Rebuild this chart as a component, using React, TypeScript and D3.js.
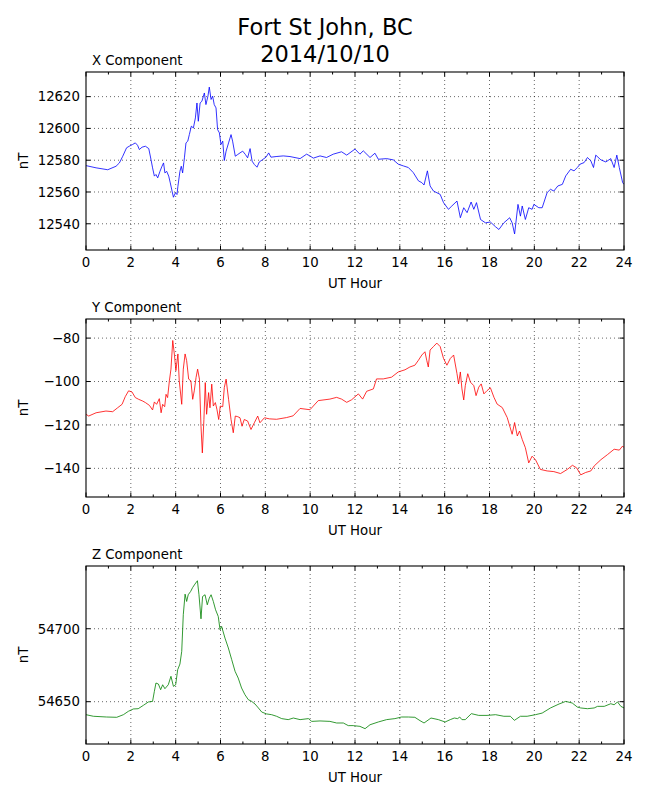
import React from 'react';
import * as d3 from 'd3';

// UT hour ticks
const hourTicks = [0, 2, 4, 6, 8, 10, 12, 14, 16, 18, 20, 22, 24];
const hourMinor = [1, 3, 5, 7, 9, 11, 13, 15, 17, 19, 21, 23];

const xTicks = [12540, 12560, 12580, 12600, 12620];
const yTicks = [-140, -120, -100, -80];
const zTicks = [54650, 54700];

// [UT hour, nT]
const xComponent: [number, number][] = [
  [0, 12576.6], [0.45, 12575.2], [0.97, 12574], [1.34, 12576.2], [1.49, 12578.3], [1.64, 12582.5],
  [1.81, 12587.8], [1.93, 12588.8], [2.08, 12589.9], [2.2, 12590.9], [2.3, 12589.4], [2.38, 12586.7],
  [2.5, 12588.2], [2.65, 12588.8], [2.8, 12587.3], [2.9, 12580.4], [2.97, 12575.2], [3.05, 12570],
  [3.12, 12571], [3.2, 12568.9], [3.3, 12573], [3.39, 12576.2], [3.46, 12578.3], [3.52, 12572],
  [3.6, 12573], [3.69, 12570], [3.76, 12565.7], [3.84, 12560.5], [3.9, 12556.7], [3.99, 12559.5],
  [4.06, 12558.4], [4.1, 12563.6], [4.19, 12573], [4.25, 12576.2], [4.31, 12572], [4.39, 12581.5],
  [4.46, 12590.9], [4.54, 12592], [4.61, 12596.1], [4.7, 12601.4], [4.79, 12600.3], [4.88, 12606.6],
  [4.95, 12616], [5.01, 12604.5], [5.09, 12616], [5.17, 12617.1], [5.28, 12622.3], [5.35, 12615],
  [5.44, 12620.3], [5.5, 12626], [5.58, 12618.2], [5.65, 12620.3], [5.72, 12615], [5.8, 12612.9],
  [5.87, 12599.3], [5.95, 12597.2], [6.02, 12589.9], [6.1, 12592], [6.17, 12579.8], [6.25, 12585.7],
  [6.36, 12590.9], [6.47, 12596.1], [6.54, 12592], [6.66, 12582.5], [6.77, 12583.6], [6.87, 12584.6],
  [6.99, 12585.7], [7.11, 12583.6], [7.21, 12581.5], [7.32, 12587.3], [7.41, 12579.4], [7.51, 12577.3],
  [7.63, 12575.6], [7.73, 12578.9], [7.88, 12580.4], [8.03, 12581.9], [8.15, 12584.6], [8.25, 12581.9],
  [8.48, 12582.3], [8.8, 12582.7], [9.1, 12582.3], [9.55, 12581], [9.84, 12583.8], [9.99, 12582.7],
  [10.14, 12581.3], [10.44, 12582.7], [10.73, 12581.7], [11.03, 12583.8], [11.4, 12585.3], [11.63, 12583.2],
  [12.0, 12587], [12.22, 12583.8], [12.37, 12585.9], [12.67, 12581.7], [12.89, 12584.4], [13.04, 12580.6],
  [13.41, 12581], [13.71, 12580.2], [13.93, 12577.5], [14.16, 12576.4], [14.38, 12575.4], [14.6, 12572.2],
  [14.83, 12567], [14.98, 12565.9], [15.08, 12564.4], [15.23, 12573.3], [15.35, 12563.8], [15.5, 12560.6],
  [15.8, 12558.5], [15.95, 12553.3], [16.17, 12549.1], [16.32, 12551.2], [16.55, 12554.3], [16.7, 12543.8],
  [16.85, 12550.1], [17.0, 12547], [17.18, 12553.7], [17.3, 12549.1], [17.42, 12553.3], [17.6, 12542.7],
  [17.82, 12540.6], [18.04, 12541.1], [18.27, 12538.1], [18.42, 12536.4], [18.64, 12540.6], [18.9, 12543.8],
  [19.01, 12540.6], [19.12, 12533.6], [19.27, 12552.2], [19.38, 12544.8], [19.46, 12551.2], [19.6, 12542.7],
  [19.75, 12550.1], [19.9, 12549.1], [19.98, 12552.2], [20.2, 12550.1], [20.35, 12550.1], [20.57, 12559.6],
  [20.72, 12561.7], [20.87, 12560.6], [21.05, 12563.8], [21.25, 12564.8], [21.4, 12570.1], [21.62, 12574.3],
  [21.77, 12573.3], [21.92, 12575.4], [22.04, 12577.5], [22.22, 12578.5], [22.37, 12581.7], [22.52, 12579.6],
  [22.64, 12575.4], [22.74, 12583.2], [22.97, 12580.2], [23.19, 12578.9], [23.41, 12581], [23.56, 12575.4],
  [23.68, 12583.2], [23.79, 12575.4], [23.94, 12565.9], [24.0, 12564.8],
];

const yComponent: [number, number][] = [
  [0, -115.1], [0.12, -115.9], [0.45, -114.4], [0.89, -113.6], [1.19, -113.9], [1.41, -112.1],
  [1.61, -110.5], [1.75, -107], [1.9, -104.3], [2.05, -104.8], [2.2, -107.4], [2.35, -108.2],
  [2.53, -109], [2.65, -109.7], [2.83, -111], [2.97, -113.1], [3.05, -109.4], [3.15, -110.5],
  [3.27, -107.9], [3.35, -114.4], [3.42, -110.5], [3.51, -111.6], [3.57, -105.9], [3.64, -107.4],
  [3.72, -99.7], [3.79, -94.3], [3.87, -81.1], [3.94, -87.3], [4.01, -95], [4.1, -87.3],
  [4.16, -99.7], [4.27, -110.5], [4.34, -94.3], [4.42, -87.3], [4.49, -90.4], [4.58, -98.9],
  [4.68, -99.7], [4.76, -108.2], [4.83, -104.3], [4.91, -98.1], [4.98, -94.3], [5.06, -98.9],
  [5.13, -120.6], [5.19, -132.9], [5.26, -117.5], [5.32, -100.5], [5.38, -115.1], [5.47, -105.1],
  [5.53, -112.1], [5.61, -101.2], [5.68, -111.3], [5.77, -109.7], [5.84, -112.8], [5.92, -117.5],
  [5.99, -111.3], [6.1, -111.6], [6.17, -102.8], [6.25, -98.9], [6.36, -108.2], [6.47, -117.5],
  [6.57, -123.6], [6.66, -115.9], [6.77, -116.2], [6.87, -116.7], [6.96, -120.6], [7.06, -117.5],
  [7.21, -118.2], [7.36, -122.1], [7.51, -119], [7.66, -115.9], [7.76, -119], [7.96, -116.7],
  [8.18, -117.2], [8.5, -117.4], [8.95, -116.6], [9.24, -115.8], [9.55, -112.4], [9.99, -113],
  [10.36, -108.8], [10.88, -108.1], [11.18, -107.3], [11.4, -108.1], [11.63, -109.6], [11.85, -108.4],
  [12.15, -105.7], [12.34, -108.1], [12.52, -104.5], [12.82, -103.4], [12.96, -98.8], [13.26, -98.8],
  [13.63, -98], [13.93, -95.6], [14.23, -94.6], [14.45, -93.3], [14.67, -92.5], [14.83, -90.2],
  [14.98, -87.8], [15.12, -86.3], [15.2, -90.2], [15.27, -93.3], [15.35, -85.5], [15.5, -83.9],
  [15.65, -82.3], [15.8, -83.9], [15.95, -89.4], [16.1, -92.5], [16.25, -89.4], [16.4, -87.8],
  [16.55, -96.4], [16.62, -101.1], [16.7, -95.6], [16.77, -103.4], [16.85, -108.5], [16.92, -101.9],
  [17.03, -96.4], [17.15, -100.3], [17.3, -101.9], [17.4, -106.5], [17.52, -102.6], [17.63, -101.1],
  [17.75, -105.7], [17.89, -104.2], [18.04, -102.9], [18.2, -107.3], [18.34, -110.4], [18.57, -112],
  [18.79, -116.6], [19.01, -124.3], [19.12, -118.9], [19.24, -125.1], [19.34, -122.8], [19.46, -126.7],
  [19.6, -130.5], [19.75, -137.5], [19.9, -134.4], [20.05, -136], [20.27, -140.5], [20.57, -141.2],
  [20.87, -141.5], [21.17, -142.4], [21.47, -140.5], [21.7, -138.6], [21.89, -139.8], [22.07, -143],
  [22.29, -141.9], [22.52, -141.2], [22.67, -138.9], [22.97, -136], [23.26, -133.7], [23.56, -131.2],
  [23.79, -131.6], [23.94, -129.7], [24.0, -130.5],
];

const zComponent: [number, number][] = [
  [0, 54641.1], [0.33, 54640], [0.92, 54639.5], [1.37, 54639.3], [1.67, 54641.1], [1.89, 54643.4],
  [2.11, 54645], [2.33, 54645.2], [2.56, 54647.5], [2.78, 54649.8], [2.97, 54650.2], [3.05, 54657.1],
  [3.12, 54662.8], [3.23, 54662.1], [3.33, 54658.2], [3.42, 54661.6], [3.52, 54658.9], [3.67, 54661.6],
  [3.79, 54667.4], [3.9, 54660.5], [4.0, 54661.6], [4.09, 54671.9], [4.19, 54675.8], [4.27, 54684.5],
  [4.34, 54709.6], [4.42, 54723.7], [4.49, 54718.7], [4.56, 54723.3], [4.67, 54725.6], [4.76, 54728.3],
  [4.86, 54730.6], [4.97, 54732.9], [5.04, 54723.3], [5.13, 54706.8], [5.2, 54722.1], [5.31, 54723.3],
  [5.41, 54716.4], [5.5, 54721], [5.58, 54723.3], [5.68, 54718.7], [5.78, 54713], [5.9, 54708.4],
  [5.98, 54699.3], [6.05, 54701.6], [6.2, 54693.6], [6.35, 54686.8], [6.5, 54678.8], [6.65, 54670.8],
  [6.79, 54666.2], [6.94, 54659.4], [7.09, 54654.8], [7.24, 54651.4], [7.39, 54650.2], [7.54, 54648.4],
  [7.69, 54645.7], [7.84, 54642.9], [8.06, 54641.6], [8.28, 54641.1], [8.5, 54640], [8.73, 54638.4],
  [9.02, 54637.7], [9.25, 54638.8], [9.55, 54637.7], [9.92, 54638.4], [10.07, 54636.5], [10.44, 54636.8],
  [10.88, 54636.5], [11.18, 54635.4], [11.48, 54635.4], [11.7, 54633.6], [11.92, 54633.6], [12.22, 54633.1],
  [12.45, 54631.5], [12.67, 54634.2], [13.04, 54636.1], [13.41, 54637.7], [13.78, 54638.4], [14.08, 54639.5],
  [14.38, 54639.5], [14.67, 54639.3], [14.9, 54637], [15.08, 54635.4], [15.39, 54638.8], [15.72, 54637.7],
  [16.02, 54636.1], [16.25, 54637.7], [16.43, 54638.8], [16.58, 54638.4], [16.67, 54639.5], [16.77, 54637.7],
  [16.92, 54637.7], [17.19, 54641.8], [17.52, 54640.6], [17.89, 54640.6], [18.27, 54641.1], [18.64, 54640],
  [18.93, 54640], [19.11, 54637.2], [19.38, 54640], [19.68, 54640], [20.05, 54641.1], [20.35, 54642.2],
  [20.72, 54645.7], [21.1, 54648.4], [21.4, 54650.2], [21.69, 54649.1], [21.92, 54646.3], [22.07, 54645.7],
  [22.37, 54645.2], [22.67, 54645.7], [22.82, 54646.8], [23.12, 54646.8], [23.41, 54648.6], [23.56, 54647.9],
  [23.71, 54649.8], [23.86, 54646.8], [24.0, 54645.7],
];

const FONT = '"DejaVu Sans", sans-serif';
const LEFT = 86;
const RIGHT = 624;
const PANEL_H = 178;

interface PanelProps {
  id: string;
  title: string;
  data: [number, number][];
  color: string;
  domain: [number, number];
  ticks: number[];
  top: number;
}

const fmt = (v: number) => (v < 0 ? '\u2212' + Math.abs(v) : String(v));

const Panel: React.FC<PanelProps> = ({ id, title, data, color, domain, ticks, top }) => {
  const x = d3.scaleLinear().domain([0, 24]).range([LEFT, RIGHT]);
  const y = d3.scaleLinear().domain(domain).range([top + PANEL_H, top]);
  const line = d3.line<[number, number]>().x(d => x(d[0])).y(d => y(d[1]));
  const bottom = top + PANEL_H;

  return (
    <g>
      <defs>
        <clipPath id={`clip-${id}`}>
          <rect x={LEFT} y={top} width={RIGHT - LEFT} height={PANEL_H} />
        </clipPath>
      </defs>
      {/* grid */}
      {hourTicks.slice(1, -1).map(t => (
        <line key={`gx${t}`} x1={x(t)} x2={x(t)} y1={top} y2={bottom}
          stroke="#000" strokeWidth={0.6} strokeDasharray="1,3" />
      ))}
      {ticks.map(t => (
        <line key={`gy${t}`} x1={LEFT} x2={RIGHT} y1={y(t)} y2={y(t)}
          stroke="#000" strokeWidth={0.6} strokeDasharray="1,3" />
      ))}
      <path d={line(data) || ''} fill="none" stroke={color} strokeWidth={0.8}
        clipPath={`url(#clip-${id})`} />
      {/* ticks, inside, all four sides */}
      {hourTicks.map(t => (
        <g key={`tx${t}`} stroke="#000" strokeWidth={1}>
          <line x1={x(t)} x2={x(t)} y1={bottom} y2={bottom - 4.5} />
          <line x1={x(t)} x2={x(t)} y1={top} y2={top + 4.5} />
        </g>
      ))}
      {hourMinor.map(t => (
        <g key={`mx${t}`} stroke="#000" strokeWidth={1}>
          <line x1={x(t)} x2={x(t)} y1={bottom} y2={bottom - 2.5} />
          <line x1={x(t)} x2={x(t)} y1={top} y2={top + 2.5} />
        </g>
      ))}
      {ticks.map(t => (
        <g key={`ty${t}`} stroke="#000" strokeWidth={1}>
          <line x1={LEFT} x2={LEFT + 4.5} y1={y(t)} y2={y(t)} />
          <line x1={RIGHT} x2={RIGHT - 4.5} y1={y(t)} y2={y(t)} />
        </g>
      ))}
      <rect x={LEFT} y={top} width={RIGHT - LEFT} height={PANEL_H} fill="none" stroke="#000" strokeWidth={1.1} />
      {/* labels */}
      {hourTicks.map(t => (
        <text key={`lx${t}`} x={x(t)} y={bottom + 17} textAnchor="middle" fontSize={13.3} fontFamily={FONT}>{t}</text>
      ))}
      {ticks.map(t => (
        <text key={`ly${t}`} x={LEFT - 6} y={y(t)} dy="0.36em" textAnchor="end" fontSize={13.3} fontFamily={FONT}>{fmt(t)}</text>
      ))}
      <text x={(LEFT + RIGHT) / 2} y={bottom + 38} textAnchor="middle" fontSize={13.3} fontFamily={FONT}>UT Hour</text>
      <text transform={`translate(28,${top + PANEL_H / 2}) rotate(-90)`} textAnchor="middle" fontSize={13.3} fontFamily={FONT}>nT</text>
      <text x={LEFT + 6} y={top - 7} fontSize={13.3} fontFamily={FONT}>{title}</text>
    </g>
  );
};

export default function App() {
  return (
    <svg width={650} height={800} style={{ position: 'absolute', left: 0, top: 0, background: '#fff' }}>
      <rect width={650} height={800} fill="#fff" />
      <text x={325} y={35} textAnchor="middle" fontSize={22.5} fontFamily={FONT}>Fort St John, BC</text>
      <text x={325} y={62} textAnchor="middle" fontSize={22.5} fontFamily={FONT}>2014/10/10</text>
      <Panel id="x" title="X Component" data={xComponent} color="#0000ff" domain={[12523.5, 12635.5]} ticks={xTicks} top={72} />
      <Panel id="y" title="Y Component" data={yComponent} color="#ff0000" domain={[-153.2, -71.2]} ticks={yTicks} top={319} />
      <Panel id="z" title="Z Component" data={zComponent} color="#008000" domain={[54621, 54743]} ticks={zTicks} top={566} />
    </svg>
  );
}
